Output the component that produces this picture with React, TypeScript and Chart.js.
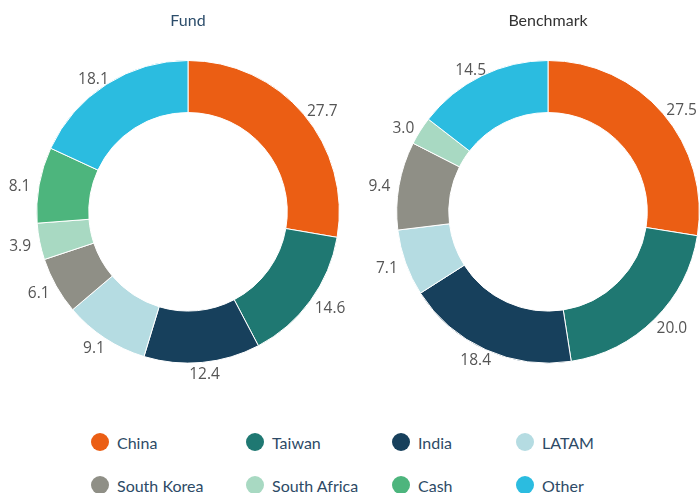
import React, { useEffect, useRef } from "react";
import { Chart, registerables } from "chart.js";

Chart.register(...registerables);

const categories = ["China", "Taiwan", "India", "LATAM", "South Korea", "South Africa", "Cash", "Other"];
const fundValues = [27.7, 14.6, 12.4, 9.1, 6.1, 3.9, 8.1, 18.1];
const benchmarkValues = [27.5, 20.0, 18.4, 7.1, 9.4, 3.0, 0, 14.5];
const sliceColors = ["#eb5e14", "#1f7872", "#17405c", "#b5dce2", "#8f8f86", "#a8d9c2", "#4db57d", "#2bbce0"];
const chartTitles = ["Fund", "Benchmark"];
const titleColors = ["#2c4d6b", "#333333"];

const outsideLabels = {
  id: "outsideLabels",
  afterDraw(chart: any, _args: any, opts: any) {
    const ctx = chart.ctx;
    const meta = chart.getDatasetMeta(0);
    const data = chart.data.datasets[0].data as number[];
    ctx.save();
    ctx.font = "15.5px 'Open Sans'";
    ctx.fillStyle = "#555555";
    ctx.textBaseline = "middle";
    ctx.textAlign = "center";
    let cx = 0;
    meta.data.forEach((arc: any, i: number) => {
      const v = data[i];
      const p = arc.getProps(["x", "y", "startAngle", "endAngle", "outerRadius"], true);
      cx = p.x;
      if (!v) return;
      const mid = (p.startAngle + p.endAngle) / 2;
      const R = p.outerRadius + 9;
      const ax = p.x + R * Math.cos(mid);
      const ay = p.y + R * Math.sin(mid);
      const txt = v.toFixed(1);
      const w = ctx.measureText(txt).width;
      ctx.fillText(txt, ax + (w / 2) * Math.cos(mid), ay + 3);
    });
    ctx.font = "16px Lato";
    ctx.fillStyle = opts.titleColor;
    ctx.textAlign = "center";
    ctx.fillText(opts.title, cx, 21);
    ctx.restore();
  },
};

function Donut({ values, idx, left, width, padLeft }: { values: number[]; idx: number; left: number; width: number; padLeft: number }) {
  const ref = useRef<HTMLCanvasElement>(null);
  useEffect(() => {
    if (!ref.current) return;
    const size = 303.6;
    const chart = new Chart(ref.current, {
      type: "doughnut",
      data: {
        labels: categories,
        datasets: [
          {
            data: values,
            backgroundColor: sliceColors,
            borderColor: "#ffffff",
            borderWidth: 1,
          },
        ],
      },
      options: {
        responsive: false,
        maintainAspectRatio: false,
        animation: false,
        events: [],
        cutout: "65.6%",
        layout: {
          padding: { left: padLeft, right: width - padLeft - size, top: 60, bottom: 400 - 60 - size },
        },
        plugins: {
          legend: { display: false },
          tooltip: { enabled: false },
          outsideLabels: { title: chartTitles[idx], titleColor: titleColors[idx] },
        } as any,
      },
      plugins: [outsideLabels],
    });
    return () => chart.destroy();
  }, []);
  return (
    <canvas
      ref={ref}
      width={width}
      height={400}
      style={{ position: "absolute", left, top: 0, width, height: 400 }}
    />
  );
}

const legendX = [100, 255, 401, 525];
const legendY = [442, 485];

export default function App() {
  return (
    <div style={{ position: "fixed", left: 0, top: 0, width: 700, height: 493, background: "#fff", overflow: "hidden" }}>
      <Donut values={fundValues} idx={0} left={0} width={376} padLeft={36.2} />
      <Donut values={benchmarkValues} idx={1} left={350} width={350} padLeft={46.2} />
      {categories.map((c, i) => {
        const x = legendX[i % 4];
        const y = legendY[Math.floor(i / 4)];
        return (
          <div key={c} style={{ position: "absolute", left: x - 9, top: y - 12, height: 24, display: "flex", alignItems: "center", whiteSpace: "nowrap" }}>
            <span style={{ display: "inline-block", width: 18, height: 18, borderRadius: "50%", background: sliceColors[i] }} />
            <span style={{ marginLeft: 8, fontFamily: "Lato", fontSize: 16, color: "#2d4a66" }}>{c}</span>
          </div>
        );
      })}
    </div>
  );
}
